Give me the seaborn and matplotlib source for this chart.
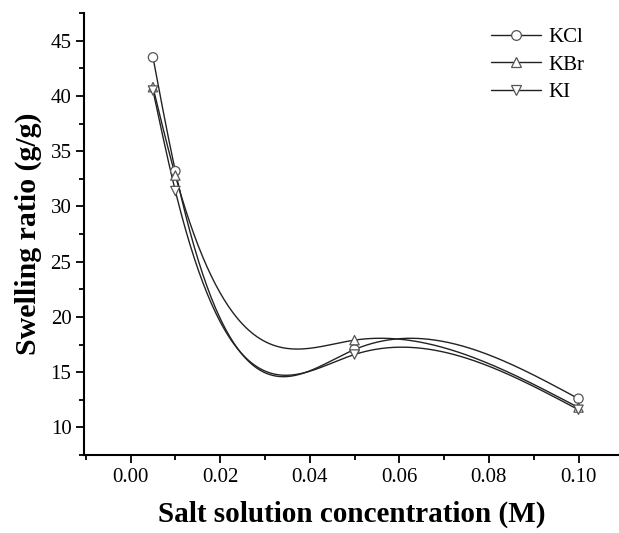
import numpy as np
import pandas as pd
import seaborn as sns
import matplotlib
matplotlib.use("Agg")
import matplotlib.pyplot as plt
from matplotlib.lines import Line2D
from matplotlib.ticker import MultipleLocator

# ------------------------------------------------------------
# Data
# ------------------------------------------------------------
concentration = [0.005, 0.01, 0.05, 0.10]
kcl = [43.5, 33.2, 17.05, 12.6]
kbr = [40.8, 32.8, 17.9, 11.8]
ki = [40.5, 31.4, 16.6, 11.6]

series_names = ["KCl", "KBr", "KI"]
series_markers = ["o", "^", "v"]


def natural_spline(x, y, n=300):
    """Natural cubic spline through the points (smooth connecting line)."""
    x = np.asarray(x, float)
    y = np.asarray(y, float)
    k = len(x)
    h = np.diff(x)
    A = np.zeros((k, k))
    b = np.zeros(k)
    A[0, 0] = A[-1, -1] = 1.0
    for i in range(1, k - 1):
        A[i, i - 1] = h[i - 1]
        A[i, i] = 2 * (h[i - 1] + h[i])
        A[i, i + 1] = h[i]
        b[i] = 6 * ((y[i + 1] - y[i]) / h[i] - (y[i] - y[i - 1]) / h[i - 1])
    M = np.linalg.solve(A, b)
    xs = np.linspace(x[0], x[-1], n)
    idx = np.clip(np.searchsorted(x, xs) - 1, 0, k - 2)
    x0, x1 = x[idx], x[idx + 1]
    hh = x1 - x0
    ys = (M[idx] * (x1 - xs) ** 3 / (6 * hh)
          + M[idx + 1] * (xs - x0) ** 3 / (6 * hh)
          + (y[idx] / hh - M[idx] * hh / 6) * (x1 - xs)
          + (y[idx + 1] / hh - M[idx + 1] * hh / 6) * (xs - x0))
    return xs, ys


sns.set_theme(style="ticks")
plt.rcParams["font.family"] = ["Liberation Serif", "DejaVu Serif"]
plt.rcParams["text.color"] = "black"
plt.rcParams["axes.labelcolor"] = "black"

fig = plt.figure(figsize=(6.19, 5.33), dpi=100)
ax = fig.add_axes([0.1357, 0.1463, 0.864, 0.829])

points = pd.DataFrame({
    "conc": concentration * 3,
    "ratio": kcl + kbr + ki,
    "salt": [s for s in series_names for _ in concentration],
})

curves = []
for name, vals in zip(series_names, [kcl, kbr, ki]):
    xs, ys = natural_spline(concentration, vals)
    curves.append(pd.DataFrame({"conc": xs, "ratio": ys, "salt": name}))
curves = pd.concat(curves, ignore_index=True)

line_color = "#222222"
marker_edge = "#555555"

sns.lineplot(
    data=curves, x="conc", y="ratio", units="salt", estimator=None,
    color=line_color, linewidth=1.0, sort=False, ax=ax, legend=False
)

sns.scatterplot(
    data=points, x="conc", y="ratio", style="salt",
    markers=dict(zip(series_names, series_markers)),
    facecolor="white", edgecolor=marker_edge, linewidth=0.9,
    s=45, ax=ax, legend=False, zorder=3
)

ax.set_xlim(-0.0104, 0.109)
ax.set_ylim(7.5, 47.5)
ax.xaxis.set_major_locator(MultipleLocator(0.02))
ax.xaxis.set_minor_locator(MultipleLocator(0.01))
ax.yaxis.set_major_locator(MultipleLocator(5))
ax.yaxis.set_minor_locator(MultipleLocator(2.5))
ax.xaxis.set_major_formatter(plt.FuncFormatter(lambda v, p: f"{v:.2f}"))

for side in ["top", "right"]:
    ax.spines[side].set_visible(False)
for side in ["left", "bottom"]:
    ax.spines[side].set_linewidth(1.5)
    ax.spines[side].set_color("black")

ax.tick_params(which="major", direction="out", length=6, width=1.3,
               labelsize=15, colors="black", labelcolor="black", pad=3)
ax.tick_params(which="minor", direction="out", length=3.5, width=1.3,
               colors="black")

ax.set_xlabel("Salt solution concentration (M)", fontsize=21,
              fontweight="bold", labelpad=10, color="black")
ax.set_ylabel("Swelling ratio (g/g)", fontsize=21.5, fontweight="bold",
              labelpad=6, color="black")

handles = [
    Line2D([0], [0], color=line_color, linewidth=1.0, marker=m,
           markersize=7, markerfacecolor="white",
           markeredgecolor=marker_edge, markeredgewidth=0.9)
    for m in series_markers
]
ax.legend(handles, series_names, loc="upper right", frameon=False,
          fontsize=15, handlelength=2.4, handletextpad=0.35,
          labelspacing=0.38, bbox_to_anchor=(0.97, 1.01),
          labelcolor="black")

fig.savefig("out.png", dpi=100, facecolor="white")
